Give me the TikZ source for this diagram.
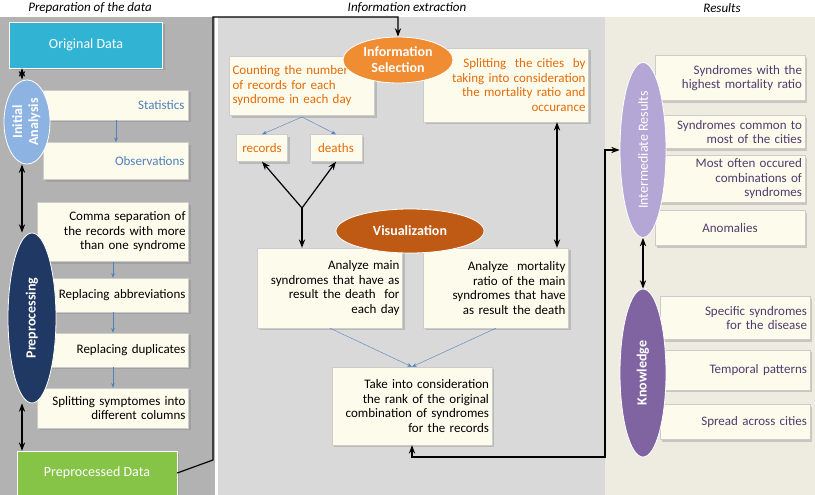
\documentclass[tikz,border=0pt]{standalone}
\usepackage{fontspec}
\setmainfont{Carlito}
\usetikzlibrary{shapes.geometric, arrows.meta, positioning, shadows}
\definecolor{leftbg}{RGB}{178,178,178}
\definecolor{midbg}{RGB}{217,217,217}
\definecolor{rightbg}{RGB}{238,236,225}
\definecolor{cream}{RGB}{253,251,235}
\definecolor{cyanbox}{RGB}{49,180,212}
\definecolor{greenbox}{RGB}{134,196,72}
\definecolor{lightblue}{RGB}{141,179,226}
\definecolor{darkblue}{RGB}{31,56,100}
\definecolor{bluetext}{RGB}{79,129,189}
\definecolor{orangetext}{RGB}{228,108,10}
\definecolor{orangeell}{RGB}{240,140,50}
\definecolor{darkorange}{RGB}{190,90,20}
\definecolor{lightpurple}{RGB}{180,167,214}
\definecolor{purple}{RGB}{128,100,162}
\definecolor{purpletext}{RGB}{80,60,110}
\tikzset{
    card/.style={rectangle, draw=gray!40, fill=cream, drop shadow={opacity=0.35}, inner sep=2pt, font=\fontsize{13}{14.5}\selectfont},
    stage/.style={ellipse, draw=white, thick, text=white, font=\bfseries\fontsize{14}{16}\selectfont, align=center, inner sep=0pt},
    datab/.style={rectangle, draw=white, text=white, font=\fontsize{14}{16}\selectfont, drop shadow={opacity=0.4}},
    link/.style={<->, >={Stealth[open]}, line width=1.2pt},
    substep/.style={->, >=Stealth, draw=bluetext},
    flow/.style={->, line width=1.2pt, >=Stealth}
}
\begin{document}
\begin{tikzpicture}[x=1pt, y=-1pt]
    \useasboundingbox (0,0) rectangle (815,495);
    % Panels
    \fill[leftbg] (0,17) rectangle (215,495);
    \fill[midbg] (218,17) rectangle (605,495);
    \fill[rightbg] (605,17) rectangle (815,495);
    \node[font=\itshape\fontsize{13}{15}\selectfont] (tprep) at (90,8) {Preparation of the data};
    \node[font=\itshape\fontsize{13}{15}\selectfont] (textr) at (407,8) {Information extraction};
    \node[font=\itshape\fontsize{13}{15}\selectfont] (tres) at (722,8) {Results};

    % Preparation of the data
    \node[datab, fill=cyanbox, minimum width=153, minimum height=46] (orig) at (86,45) {Original Data};
    \node[card, text=bluetext, minimum width=145, minimum height=30, align=right, text width=137] (stat) at (116,105) {Statistics};
    \node[card, text=bluetext, minimum width=145, minimum height=37, align=right, text width=137] (obs) at (116,161) {Observations};
    \node[card, minimum width=151, minimum height=59, align=right, text width=145] (comma) at (113,232) {Comma separation of\\the records with more\\than one syndrome};
    \node[card, minimum width=151, minimum height=34, align=right, text width=145] (abbr) at (113,295) {Replacing abbreviations};
    \node[card, minimum width=151, minimum height=34, align=right, text width=145] (dupl) at (113,350) {Replacing duplicates};
    \node[card, minimum width=151, minimum height=40, align=right, text width=145] (split) at (113,408) {Splitting symptomes into\\different columns};
    \node[stage, fill=lightblue, minimum width=46, minimum height=82] (init) at (27,122) {\rotatebox{90}{\begin{tabular}{c}Initial\\Analysis\end{tabular}}};
    \node[stage, fill=darkblue, minimum width=48, minimum height=170] (prep) at (32,318) {\rotatebox{90}{Preprocessing}};
    \node[datab, fill=greenbox, minimum width=160, minimum height=44] (ppd) at (97,473) {Preprocessed Data};
    \draw[substep] (stat) -- (obs);
    \draw[substep] (comma) -- (abbr);
    \draw[substep] (abbr) -- (dupl);
    \draw[substep] (dupl) -- (split);
    \draw[link] (orig.south -| 22,0) -- (init.north -| 22,0);
    \draw[link, >=Stealth] (init.south -| 22,0) -- (prep.north -| 22,0);
    \draw[link, >=Stealth] (prep.south -| 22,0) -- (ppd.north -| 22,0);

    % Information extraction
    \node[card, text=orangetext, minimum width=145, minimum height=59, align=left, text width=139] (count) at (302,86) {Counting the number\\of records for each\\syndrome in each day};
    \node[card, text=orangetext, minimum width=165, minimum height=74, align=right, text width=159] (cities) at (506,85) {Splitting~ the cities~ by\\taking into consideration\\the mortality ratio and\\occurance};
    \node[stage, fill=orangeell, minimum width=110, minimum height=46] (isel) at (398,60) {Information\\Selection};
    \node[card, text=orangetext, minimum width=51, minimum height=27] (rec) at (262,148) {records};
    \node[card, text=orangetext, minimum width=52, minimum height=27] (dea) at (336,148) {deaths};
    \node[card, minimum width=145, minimum height=80, align=right, text width=139] (amain) at (330,288) {Analyze main\\syndromes that have as\\result the death~ for\\each day};
    \node[card, minimum width=145, minimum height=80, align=right, text width=139] (amort) at (496,288) {Analyze~ mortality\\ratio of the main\\syndromes that have\\as result the death};
    \node[stage, fill=darkorange, minimum width=148, minimum height=44] (vis) at (410,231) {Visualization};
    \node[card, minimum width=160, minimum height=78, align=right, text width=154] (rank) at (412,406) {Take into consideration\\the rank of the original\\combination of syndromes\\for the records};
    \coordinate (fork) at (302,208);
    \coordinate (cnt) at (302,117);
    \draw[substep] (cnt) -- (rec.north);
    \draw[substep] (cnt) -- (dea.north);
    \draw[flow, <-] (rec.south) -- (fork);
    \draw[flow, <-] (dea.south) -- (fork);
    \draw[flow] (fork) -- (amain.north -| fork);
    \draw[link, >=Stealth] (cities.south -| 557,0) -- (amort.north -| 557,0);
    \draw[substep] (amain.south) -- (rank.north);
    \draw[substep] (amort.south) -- (rank.north);
    \draw[flow] (ppd.east) -- (213,460) -- (213,17) -- (398,17) -- (isel.north);

    % Results
    \node[card, text=purpletext, minimum width=150, minimum height=45, align=right, text width=144] (r1) at (730,78) {Syndromes with the\\highest mortality ratio};
    \node[card, text=purpletext, minimum width=150, minimum height=33, align=right, text width=144] (r2) at (730,132) {Syndromes common to\\most of the cities};
    \node[card, text=purpletext, minimum width=150, minimum height=47, align=right, text width=144] (r3) at (730,179) {Most often occured\\combinations of\\syndromes};
    \node[card, text=purpletext, minimum width=150, minimum height=35] (r4) at (730,228) {Anomalies};
    \node[card, text=purpletext, minimum width=150, minimum height=43, align=right, text width=144] (k1) at (735,318) {Specific syndromes\\for the disease};
    \node[card, text=purpletext, minimum width=150, minimum height=40, align=right, text width=144] (k2) at (735,370) {Temporal patterns};
    \node[card, text=purpletext, minimum width=150, minimum height=35, align=right, text width=144] (k3) at (735,422) {Spread across cities};
    \node[stage, fill=lightpurple, minimum width=46, minimum height=175] (inter) at (643,150) {\rotatebox{90}{\mdseries Intermediate Results}};
    \node[stage, fill=purple, minimum width=46, minimum height=168] (know) at (643,373) {\rotatebox{90}{Knowledge}};
    \draw[link, >=Stealth] (inter.south) -- (know.north);
    \draw[flow, <->] (rank.south) -- (412,457) -- (605,457) -- (605,150) -- (inter.west);
\end{tikzpicture}
\end{document}
